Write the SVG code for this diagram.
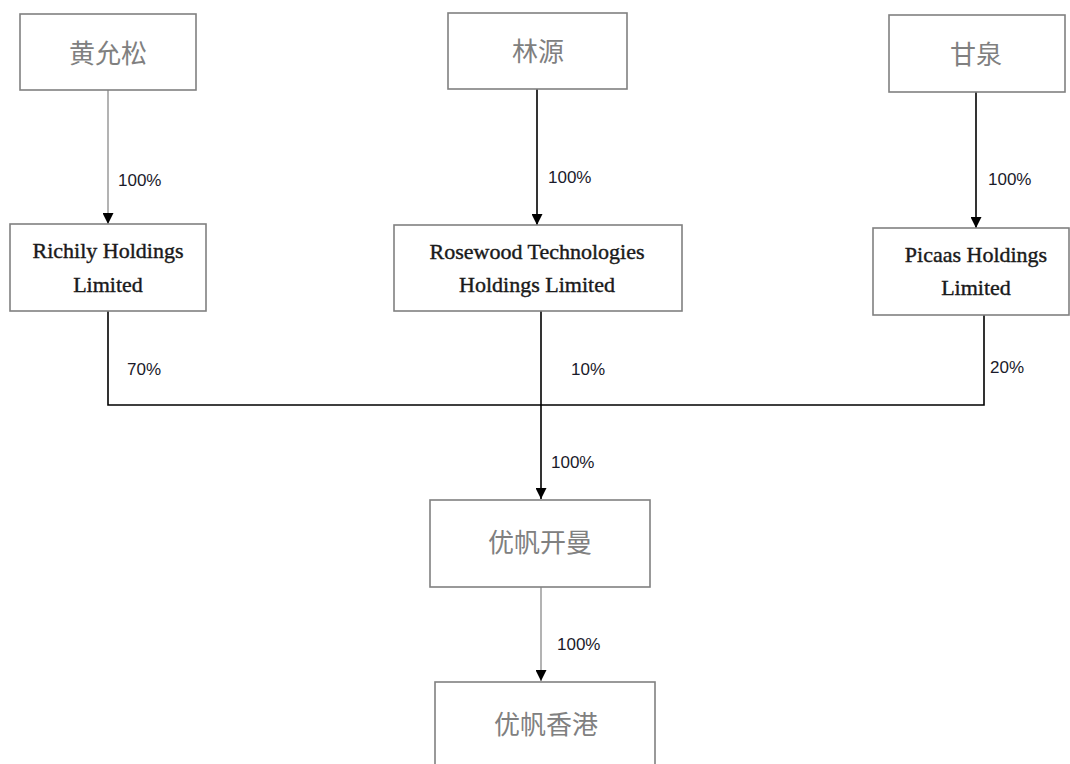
<svg xmlns="http://www.w3.org/2000/svg" width="1070" height="764" viewBox="0 0 1070 764">
<defs>
<marker id="ah" viewBox="0 0 10 10" refX="10" refY="5" markerWidth="11" markerHeight="11" markerUnits="userSpaceOnUse" orient="auto">
<path d="M0,0 L10,5 L0,10 z" fill="#000"/>
</marker>
<style>
.box{fill:#fff;stroke:#808080;stroke-width:1.6}
.cn{font-family:"Liberation Serif","Noto Sans CJK SC",serif;font-size:26px;fill:#808080;text-anchor:middle}
.en{font-family:"Liberation Serif",serif;font-size:22px;fill:#1a1a1a;stroke:#1a1a1a;stroke-width:0.4;text-anchor:middle}
.pct{font-family:"Liberation Sans",sans-serif;font-size:17px;fill:#1a1a2a}
.ln{fill:none;stroke:#000;stroke-width:1.6}
.lg{fill:none;stroke:#a0a0a0;stroke-width:1.6}
</style>
</defs>
<rect width="1070" height="764" fill="#fff"/>
<g id="connectors">
<line class="lg" x1="108" y1="90" x2="108" y2="224" marker-end="url(#ah)"/>
<line class="ln" x1="537" y1="89" x2="537" y2="225" marker-end="url(#ah)"/>
<line class="ln" x1="976" y1="92" x2="976" y2="228" marker-end="url(#ah)"/>
<polyline class="ln" points="108,311 108,405 984,405 984,315"/>
<line class="ln" x1="541" y1="311" x2="541" y2="499" marker-end="url(#ah)"/>
<line class="lg" x1="541" y1="587" x2="541" y2="681" marker-end="url(#ah)"/>
<text class="pct" x="118" y="186">100%</text>
<text class="pct" x="548" y="183">100%</text>
<text class="pct" x="988" y="185">100%</text>
<text class="pct" x="127" y="375">70%</text>
<text class="pct" x="571" y="375">10%</text>
<text class="pct" x="990" y="373">20%</text>
<text class="pct" x="551" y="468">100%</text>
<text class="pct" x="557" y="650">100%</text>
</g>
<g id="n1"><rect class="box" x="20" y="14" width="176" height="76"/><text class="cn" x="108" y="63">黄允松</text></g>
<g id="n2"><rect class="box" x="448" y="13" width="179" height="76"/><text class="cn" x="538" y="61">林源</text></g>
<g id="n3"><rect class="box" x="889" y="15" width="176" height="77"/><text class="cn" x="976" y="64">甘泉</text></g>
<g id="n4"><rect class="box" x="10" y="224" width="196" height="87"/><text class="en" x="108" y="258">Richily Holdings</text><text class="en" x="108" y="292">Limited</text></g>
<g id="n5"><rect class="box" x="394" y="225" width="288" height="86"/><text class="en" x="537" y="259">Rosewood Technologies</text><text class="en" x="537" y="292">Holdings Limited</text></g>
<g id="n6"><rect class="box" x="873" y="228" width="196" height="87"/><text class="en" x="976" y="262">Picaas Holdings</text><text class="en" x="976" y="295">Limited</text></g>
<g id="n7"><rect class="box" x="430" y="500" width="220" height="87"/><text class="cn" x="540" y="552">优帆开曼</text></g>
<g id="n8"><rect class="box" x="435" y="682" width="220" height="90"/><text class="cn" x="546" y="734">优帆香港</text></g>
</svg>
